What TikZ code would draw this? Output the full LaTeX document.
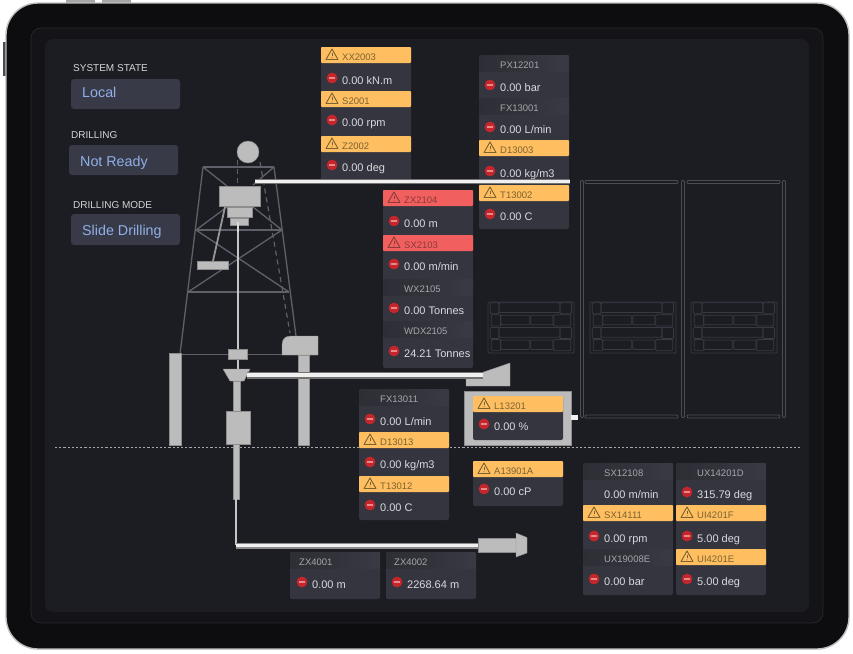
\documentclass[tikz,border=0pt]{standalone}
\usepackage{fontspec}
\setmainfont{Liberation Sans}
\definecolor{device}{HTML}{0D0D0F}
\definecolor{frameC}{HTML}{131318}
\definecolor{frameL}{HTML}{2A2A30}
\definecolor{screenC}{HTML}{1C1D23}
\definecolor{cardC}{HTML}{34353E}
\definecolor{cardTop}{HTML}{2E2F36}
\definecolor{cardBot}{HTML}{393A44}
\definecolor{btn}{HTML}{393A47}
\definecolor{btnText}{HTML}{8FB0E8}
\definecolor{orangeC}{HTML}{FFBF60}
\definecolor{orangeT}{HTML}{7A6232}
\definecolor{redH}{HTML}{F25F5F}
\definecolor{redT}{HTML}{8A3A3A}
\definecolor{redC}{HTML}{C4262C}
\definecolor{minusC}{HTML}{E58A8A}
\definecolor{hdrT}{HTML}{A6A6AB}
\definecolor{valT}{HTML}{DADADE}
\definecolor{lbl}{HTML}{D4D4D8}
\definecolor{steel}{HTML}{BCBCBC}
\definecolor{truss}{HTML}{5F6069}
\definecolor{tank}{HTML}{4B4C56}
\definecolor{grid}{HTML}{383943}
\tikzset{
  x=1pt,y=-1pt,
  cardbg/.style={fill=cardC,rounded corners=2pt},
  hdrlabel/.style={anchor=base west,inner sep=0pt,font=\fontsize{9.5}{11}\selectfont},
  vallabel/.style={anchor=base west,inner sep=0pt,text=valT,font=\fontsize{11}{13}\selectfont},
  sectlabel/.style={anchor=base west,inner sep=0pt,text=lbl,font=\fontsize{10}{12}\selectfont},
  btnlabel/.style={anchor=base west,inner sep=0pt,text=btnText,font=\fontsize{14.3}{16}\selectfont},
  btnbox/.style={fill=btn,rounded corners=3pt},
  part/.style={fill=steel,draw=steel!75!black,line width=.4pt},
  trussline/.style={draw=truss,line width=1.3pt},
  tankbar/.style={draw=tank,line width=.9pt,fill=screenC,rounded corners=1pt},
  gridbox/.style={draw=grid,line width=.8pt,rounded corners=1pt},
}
% warning triangle centred on x,y
\newcommand{\warnicon}[3]{%
  \draw[#3,line width=.9pt,line join=round] (#1-6,#2+5) -- (#1,#2-5.5) -- (#1+6,#2+5) -- cycle;
  \draw[#3,line width=.9pt] (#1,#2-1.8) -- (#1,#2+1.6);
  \fill[#3] (#1,#2+3.3) circle (.55);
}
\newcommand{\stopicon}[2]{%
  \fill[redC] (#1,#2) circle (5.4);
  \fill[minusC] (#1-3,#2-.6) rectangle (#1+3,#2+.6);
}
\newcommand{\hdrO}[3]{%
  \fill[orangeC,rounded corners=.8pt] (#1,#2) rectangle ++(90,16);
  \warnicon{#1+11}{#2+7.5}{orangeT}
  \node[hdrlabel,text=orangeT] (#3) at (#1+21,#2+13) {#3};
}
\newcommand{\hdrR}[3]{%
  \fill[redH,rounded corners=.8pt] (#1,#2) rectangle ++(90,16);
  \warnicon{#1+11}{#2+7.5}{redT}
  \node[hdrlabel,text=redT] (#3) at (#1+21,#2+13) {#3};
}
\newcommand{\hdrG}[4]{%
  \shade[left color=cardTop,right color=cardBot,middle color=cardTop!70!cardBot] (#1+.5,#2) rectangle ++(89,16);
  \node[hdrlabel,text=hdrT] (#3) at (#1+#4,#2+13.4) {#3};
}
\newcommand{\valI}[4]{%
  \stopicon{#1+11}{#2-2}
  \node[vallabel] (#3) at (#1+21,#2+4) {#4};
}
\newcommand{\valN}[4]{%
  \node[vallabel] (#3) at (#1+21,#2+4) {#4};
}
\newcommand{\gridset}[2]{%
\begin{scope}[shift={(#1,#2)}]
  \draw[gridbox] (0,0) rectangle (86,51);
  \foreach \r in {0,24.7}{
    \draw[gridbox] (2.3,.8+\r) rectangle (11,11.8+\r);
    \draw[gridbox] (11,.8+\r) rectangle (72,10.5+\r);
    \draw[gridbox] (72,.8+\r) rectangle (83.5,11.8+\r);
    \draw[gridbox] (3.3,12.7+\r) rectangle (12.7,24+\r);
    \draw[gridbox] (12.7,13.3+\r) rectangle (41.7,22.7+\r);
    \draw[gridbox] (42.7,13.3+\r) rectangle (65,22.7+\r);
    \draw[gridbox] (65.7,12.7+\r) rectangle (82.7,24+\r);
  }
\end{scope}}
\begin{document}
\begin{tikzpicture}
\useasboundingbox (0,0) rectangle (853,653);
\fill[white] (0,0) rectangle (853,653);
% device
\fill[gray!70] (66,0) rectangle (95,3);
\fill[gray!70] (102,0) rectangle (131,3);
\fill[gray!60!black] (3,42) rectangle (7,76);
\draw[fill=device,draw=black!25,line width=1.4pt,rounded corners=32pt] (6,3) rectangle (849,649);
\draw[fill=frameC,draw=frameL,line width=.6pt,rounded corners=10pt] (31,28) rectangle (823,623);
\fill[screenC,rounded corners=8pt] (45,39) rectangle (809,612);
% left panel
\node[sectlabel] (sysL) at (73,71.5) {SYSTEM STATE};
\fill[btnbox] (71,79) rectangle (180,109);
\node[btnlabel] (sysV) at (82,97.5) {Local};
\node[sectlabel] (drlL) at (71,138) {DRILLING};
\fill[btnbox] (69,145) rectangle (178,175);
\node[btnlabel] (drlV) at (80,166) {Not Ready};
\node[sectlabel] (modL) at (73,208) {DRILLING MODE};
\fill[btnbox] (71,214) rectangle (180,245);
\node[btnlabel] (modV) at (82,235) {Slide Drilling};
% tanks
\foreach \xx in {580,681,782}{
  \draw[tankbar] (\xx.5,180.5) rectangle ++(3,237);
}
\foreach \xx in {585,687}{
  \draw[tankbar] (\xx,180.5) rectangle ++(93,3);
  \draw[tankbar] (\xx,415) rectangle ++(93,3);
}
\gridset{488}{302}
\gridset{590}{302}
\gridset{691}{302}
% dashed ground line
\draw[draw=black!35!white,line width=.8pt,dash pattern=on 2.2pt off 2pt] (55,447.5) -- (800,447.5);
% derrick
\draw[draw=truss,line width=1.2pt,dash pattern=on 5pt off 4pt] (237.7,160) -- (237.7,187);
\draw[draw=truss,line width=1.2pt,dash pattern=on 5pt off 4pt] (260,162) -- (290,333);
\draw[trussline] (203,167) -- (274,167);
\draw[trussline] (203,167) -- (180,354);
\draw[trussline] (274,167) -- (296,336);
\draw[trussline] (196,230) -- (282,230);
\draw[trussline] (188,292) -- (289,292);
\draw[trussline] (203,167) -- (227,186);
\draw[trussline] (274,167) -- (253,185);
\draw[trussline] (227,207) -- (196,230);
\draw[trussline] (253,207) -- (282,230);
\draw[trussline] (196,230) -- (289,292);
\draw[trussline] (282,230) -- (188,292);
\draw[trussline] (180,354.5) -- (284,354.5);
\draw[draw=steel!80!black,line width=1.8pt] (225,207) -- (213,261);
\fill[part] (197,261) rectangle (228,269);
\draw[draw=steel!85!white,line width=1.8pt] (238,222) -- (238,371);
\fill[part] (219,186) rectangle (260,206);
\fill[part] (227,207) rectangle (252,217);
\fill[part] (230,218) rectangle (248,225);
\draw[draw=white!85!black,line width=1.8pt] (238,222) -- (238,232);
\fill[part] (228,349) rectangle (247,359);
\fill[part] (169,353) rectangle (181,445);
\fill[part] (298,355) rectangle (309,445);
\draw[part] (282,355) -- (282,345) .. controls (282,339) and (285,336) .. (291,336) -- (318,336) -- (318,355) -- cycle;
\fill[part] (248,152) circle (11);
\fill[part] (233.5,381) rectangle (240,411);
\fill[part] (226,411) rectangle (250,444);
\fill[part] (233.5,444) rectangle (239.5,499);
\draw[part] (223,369) -- (250,369) -- (244,381) -- (230,381) -- cycle;
\draw[draw=steel!85!white,line width=2pt] (236,499) -- (236,545);
% wedge and nozzle
\draw[part] (466,378) -- (510,363) -- (510,386) -- (466,386) -- cycle;
\fill[part] (478,538) rectangle (516,552);
\draw[part] (516,533) -- (527,537.5) -- (527,553) -- (516,557) -- cycle;
% cards
\fill[cardbg] (321,47) rectangle (411,180);
\hdrO{321}{47}{XX2003}
\valI{321}{80}{XX2003v}{0.00 kN.m}
\hdrO{321}{91}{S2001}
\valI{321}{122}{S2001v}{0.00 rpm}
\hdrO{321}{136}{Z2002}
\valI{321}{167}{Z2002v}{0.00 deg}
%
\fill[cardbg] (479,55) rectangle (569,229);
\hdrG{479}{55}{PX12201}{21}
\valI{479}{87}{PX12201v}{0.00 bar}
\hdrG{479}{98}{FX13001}{21}
\valI{479}{129}{FX13001v}{0.00 L/min}
\hdrO{479}{140}{D13003}
\valI{479}{173}{D13003v}{0.00 kg/m3}
\hdrO{479}{185}{T13002}
\valI{479}{216}{T13002v}{0.00 C}
%
\fill[cardbg] (383,190) rectangle (473,368);
\hdrR{383}{190}{ZX2104}
\valI{383}{223}{ZX2104v}{0.00 m}
\hdrR{383}{235}{SX2103}
\valI{383}{266}{SX2103v}{0.00 m/min}
\hdrG{383}{279}{WX2105}{21}
\valI{383}{310}{WX2105v}{0.00 Tonnes}
\hdrG{383}{321}{WDX2105}{21}
\valI{383}{353}{WDX2105v}{24.21 Tonnes}
%
\fill[cardbg] (359,389) rectangle (449,520);
\hdrG{359}{389}{FX13011}{21}
\valI{359}{421}{FX13011v}{0.00 L/min}
\hdrO{359}{432}{D13013}
\valI{359}{464}{D13013v}{0.00 kg/m3}
\hdrO{359}{476}{T13012}
\valI{359}{507}{T13012v}{0.00 C}
%
\fill[part] (464,391) rectangle (571,445);
\fill[cardbg] (473,396) rectangle (563,440);
\hdrO{473}{396}{L13201}
\valI{473}{426}{L13201v}{0.00 \%}
%
\fill[cardbg] (473,461) rectangle (563,506);
\hdrO{473}{461}{A13901A}
\valI{473}{491}{A13901Av}{0.00 cP}
%
\fill[cardbg] (290,552) rectangle (380,599);
\hdrG{290}{552}{ZX4001}{9}
\stopicon{302}{582}
\node[vallabel] (ZX4001v) at (312,588) {0.00 m};
\fill[cardbg] (386,552) rectangle (476,599);
\hdrG{386}{552}{ZX4002}{8}
\stopicon{397}{582}
\node[vallabel] (ZX4002v) at (407,588) {2268.64 m};
%
\fill[cardbg] (583,463) rectangle (673,595);
\hdrG{583}{463}{SX12108}{21}
\valN{583}{494}{SX12108v}{0.00 m/min}
\hdrO{583}{505}{SX14111}
\valI{583}{538}{SX14111v}{0.00 rpm}
\hdrG{583}{549}{UX19008E}{21}
\valI{583}{581}{UX19008Ev}{0.00 bar}
%
\fill[cardbg] (676,463) rectangle (766,595);
\hdrG{676}{463}{UX14201D}{21}
\valI{676}{494}{UX14201Dv}{315.79 deg}
\hdrO{676}{505}{UI4201F}
\valI{676}{538}{UI4201Fv}{5.00 deg}
\hdrO{676}{549}{UI4201E}
\valI{676}{581}{UI4201Ev}{5.00 deg}
% white lines
\coordinate (topS) at (255,181.5);
\coordinate (topE) at (570,181.5);
\coordinate (midS) at (247,375);
\coordinate (midE) at (483,375);
\coordinate (lowS) at (236,545.5);
\coordinate (lowE) at (478,545.5);
\coordinate (tapS) at (571,417.5);
\coordinate (tapE) at (578,417.5);
\draw[draw=black!55!white,line width=4.4pt] (topS) -- (topE);
\draw[draw=white!94!black,line width=2.8pt] (topS) -- (topE);
\draw[draw=black!55!white,line width=7pt] (midS) -- (midE);
\draw[draw=white!94!black,line width=4.2pt] (midS) -- (midE);
\draw[draw=black!45!white,line width=6pt] (lowS) -- (lowE);
\draw[draw=white!94!black,line width=3.6pt] (lowS) -- (lowE);
\draw[draw=white!94!black,line width=5pt] (tapS) -- (tapE);
\end{tikzpicture}
\end{document}
